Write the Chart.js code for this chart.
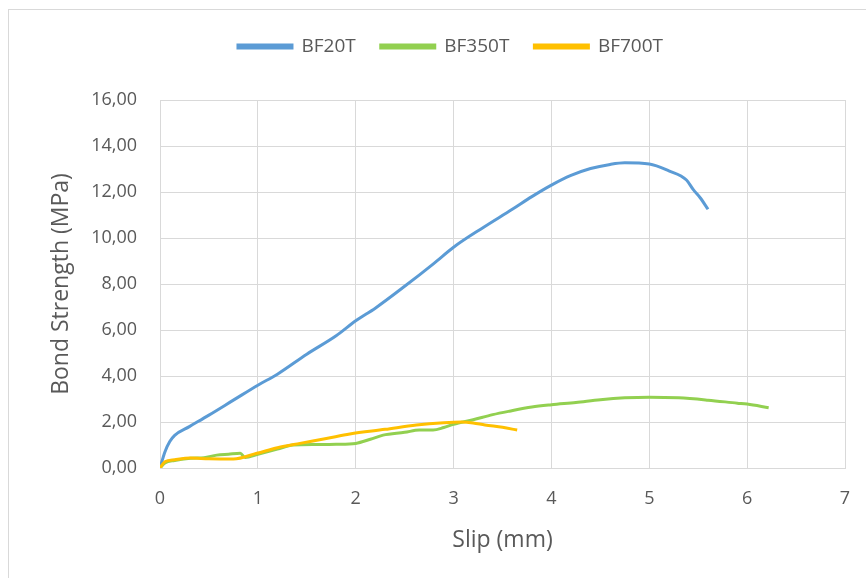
<!DOCTYPE html>
<html>
<head>
<meta charset="utf-8">
<script src="https://cdn.jsdelivr.net/npm/chart.js@4"></script>
<style>
    html, body { margin: 0; padding: 0; background: #ffffff; }
    #wrap { position: relative; width: 866px; height: 578px; overflow: hidden; }
    #frame { position: absolute; left: 8px; top: 9px; width: 900px; height: 600px; border: 1px solid #d9d9d9; }
    #chart { position: absolute; left: 0; top: 0; }
</style>
</head>
<body>
<div id="wrap">
    <div id="frame"></div>
    <canvas id="chart" width="866" height="578"></canvas>
</div>
<script>
// Series: slip (mm) and bond strength (MPa)
const seriesNames = ['BF20T', 'BF350T', 'BF700T'];
const seriesColors = ['#5b9bd5', '#92d050', '#ffc000'];

const bf20tSlip   = [0, 0.05, 0.1, 0.15, 0.3, 0.5, 0.75, 1.0, 1.2, 1.5, 1.8, 2.0, 2.2, 2.5, 2.8, 3.0, 3.3, 3.6, 3.8, 4.0, 4.2, 4.4, 4.6, 4.75, 5.0, 5.2, 5.38, 5.45, 5.52, 5.6];
const bf20tStress = [0, 0.7, 1.15, 1.42, 1.8, 2.3, 2.95, 3.6, 4.08, 4.95, 5.75, 6.4, 6.95, 7.9, 8.9, 9.6, 10.45, 11.25, 11.8, 12.3, 12.72, 13.02, 13.2, 13.27, 13.22, 12.92, 12.52, 12.1, 11.75, 11.25];

const bf350tSlip   = [0, 0.05, 0.15, 0.31, 0.45, 0.58, 0.7, 0.82, 0.87, 1.0, 1.2, 1.36, 1.6, 1.8, 2.0, 2.15, 2.28, 2.5, 2.65, 2.79, 2.9, 3.0, 3.2, 3.4, 3.57, 3.8, 4.0, 4.25, 4.5, 4.75, 5.0, 5.3, 5.6, 5.9, 6.0, 6.22];
const bf350tStress = [0, 0.22, 0.33, 0.42, 0.45, 0.56, 0.6, 0.64, 0.46, 0.6, 0.82, 1.0, 1.02, 1.03, 1.07, 1.25, 1.43, 1.55, 1.65, 1.65, 1.76, 1.9, 2.1, 2.32, 2.47, 2.65, 2.75, 2.85, 2.97, 3.05, 3.08, 3.05, 2.95, 2.82, 2.78, 2.62];

const bf700tSlip   = [0, 0.05, 0.15, 0.31, 0.5, 0.75, 0.99, 1.2, 1.43, 1.7, 1.94, 2.3, 2.62, 2.9, 3.08, 3.2, 3.32, 3.5, 3.65];
const bf700tStress = [0, 0.27, 0.36, 0.43, 0.4, 0.39, 0.64, 0.88, 1.07, 1.28, 1.48, 1.68, 1.87, 1.97, 2.0, 1.96, 1.87, 1.77, 1.65];

const xTicks = [0, 1, 2, 3, 4, 5, 6, 7];
const yTicks = [0, 2, 4, 6, 8, 10, 12, 14, 16];

function toPoints(xs, ys) {
    return xs.map((x, i) => ({ x: x, y: ys[i] }));
}

const allSeries = [
    toPoints(bf20tSlip, bf20tStress),
    toPoints(bf350tSlip, bf350tStress),
    toPoints(bf700tSlip, bf700tStress)
];

const fontFamily = '"Open Sans", "Liberation Sans", sans-serif';
const textColor = '#595959';

// Fixed legend block height, and the legend nudged right like in the original
const legendPlacement = {
    id: 'legendPlacement',
    beforeInit(chart) {
        const fit = chart.legend.fit;
        chart.legend.fit = function () {
            fit.bind(chart.legend)();
            this.height = 88;
        };
    },
    afterLayout(chart) {
        chart.legend.left += 28;
        chart.legend.right += 28;
    }
};

new Chart(document.getElementById('chart'), {
    type: 'scatter',
    data: {
        datasets: seriesNames.map((name, i) => ({
            label: name,
            data: allSeries[i],
            showLine: true,
            borderColor: seriesColors[i],
            backgroundColor: seriesColors[i],
            borderWidth: 3,
            pointRadius: 0,
            cubicInterpolationMode: 'monotone',
            order: seriesNames.length - i   // later series drawn on top
        }))
    },
    plugins: [legendPlacement],
    options: {
        responsive: false,
        animation: false,
        layout: { padding: { left: 0, right: 21, top: 12, bottom: 0 } },
        plugins: {
            tooltip: { enabled: false },
            legend: {
                position: 'top',
                labels: {
                    boxWidth: 54,
                    boxHeight: 3,
                    padding: 25,
                    color: textColor,
                    font: { family: fontFamily, size: 19 },
                    sort: (a, b) => a.datasetIndex - b.datasetIndex
                }
            }
        },
        scales: {
            x: {
                type: 'linear',
                min: xTicks[0],
                max: xTicks[xTicks.length - 1],
                afterBuildTicks: (axis) => { axis.ticks = xTicks.map(v => ({ value: v })); },
                afterFit: (axis) => {
                    axis.height = 110;
                    axis.paddingRight = 0;
                },
                grid: { color: '#d9d9d9', lineWidth: 1, drawTicks: false },
                border: { color: '#d9d9d9' },
                ticks: { color: textColor, padding: 20, font: { family: fontFamily, size: 18 } },
                title: { display: true, text: 'Slip (mm)', color: textColor, padding: { top: 0, bottom: 24 }, font: { family: fontFamily, size: 23 } }
            },
            y: {
                min: yTicks[0],
                max: yTicks[yTicks.length - 1],
                afterBuildTicks: (axis) => { axis.ticks = yTicks.map(v => ({ value: v })); },
                afterFit: (axis) => { axis.width = 160; },
                grid: { color: '#d9d9d9', lineWidth: 1, drawTicks: false },
                border: { color: '#d9d9d9' },
                ticks: {
                    color: textColor,
                    padding: 23,
                    font: { family: fontFamily, size: 18 },
                    callback: (value) => value.toFixed(2).replace('.', ',')
                },
                title: { display: true, text: 'Bond Strength (MPa)', color: textColor, padding: { top: 48, bottom: 0 }, font: { family: fontFamily, size: 23 } }
            }
        }
    }
});
</script>
</body>
</html>
